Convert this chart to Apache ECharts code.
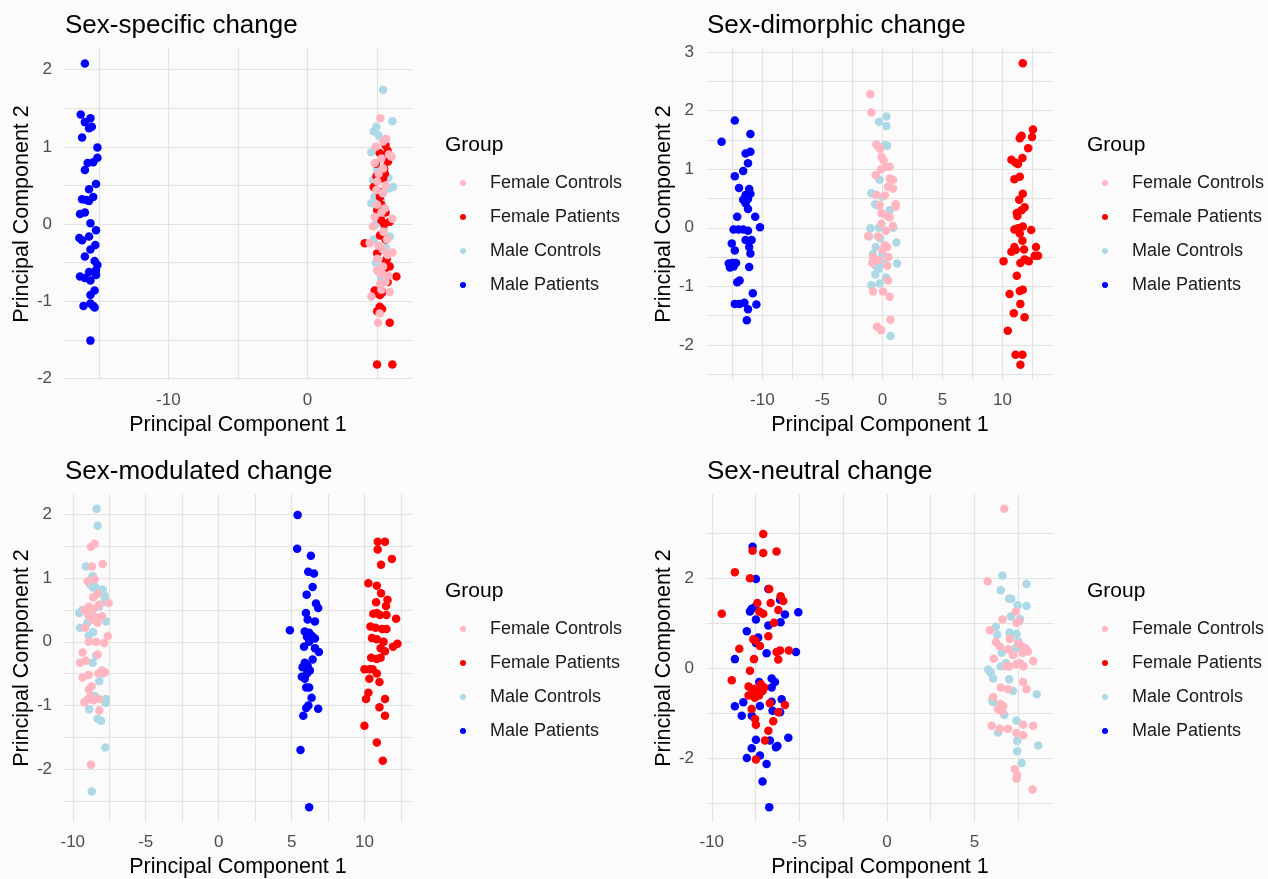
<!DOCTYPE html>
<html>
<head>
<meta charset="utf-8">
<script src="https://cdn.jsdelivr.net/npm/echarts@6/dist/echarts.min.js"></script>
<style>html,body{margin:0;padding:0;background:#fbfbfb;}#c{width:1268px;height:879px;}</style>
</head>
<body>
<div id="c"></div>
<script>
// ---------- categories ----------
const groups = ['Female Controls', 'Female Patients', 'Male Controls', 'Male Patients'];
const panelTitles = ['Sex-specific change', 'Sex-dimorphic change', 'Sex-modulated change', 'Sex-neutral change'];
const legendTitle = 'Group';
const xAxisTitle = 'Principal Component 1';
const yAxisTitle = 'Principal Component 2';

// ---------- tick labels / grid lines ----------
const specificXLabels = [-10, 0];
const specificXGrid = [-15, -10, -5, 0, 5];
const specificYLabels = [-2, -1, 0, 1, 2];
const specificYGrid = [-2, -1.5, -1, -0.5, 0, 0.5, 1, 1.5, 2];

const dimorphicXLabels = [-10, -5, 0, 5, 10];
const dimorphicXGrid = [-12.5, -10, -7.5, -5, -2.5, 0, 2.5, 5, 7.5, 10, 12.5];
const dimorphicYLabels = [-2, -1, 0, 1, 2, 3];
const dimorphicYGrid = [-2.5, -2, -1.5, -1, -0.5, 0, 0.5, 1, 1.5, 2, 2.5, 3];

const modulatedXLabels = [-10, -5, 0, 5, 10];
const modulatedXGrid = [-10, -7.5, -5, -2.5, 0, 2.5, 5, 7.5, 10, 12.5];
const modulatedYLabels = [-2, -1, 0, 1, 2];
const modulatedYGrid = [-2.5, -2, -1.5, -1, -0.5, 0, 0.5, 1, 1.5, 2];

const neutralXLabels = [-10, -5, 0, 5];
const neutralXGrid = [-10, -7.5, -5, -2.5, 0, 2.5, 5, 7.5];
const neutralYLabels = [-2, 0, 2];
const neutralYGrid = [-3, -2, -1, 0, 1, 2, 3];

// ---------- data: Sex-specific change ----------
const specificMalePatients = [[-16.0,2.08],[-16.3,1.42],[-15.6,1.37],[-16.0,1.32],[-15.5,1.26],[-15.7,1.24],[-16.2,1.12],[-15.1,0.99],[-15.1,0.86],[-15.4,0.80],[-15.8,0.79],[-16.0,0.70],[-15.2,0.52],[-15.7,0.45],[-15.4,0.35],[-16.2,0.32],[-15.9,0.31],[-15.7,0.30],[-16.35,0.13],[-16.0,0.15],[-15.6,0.01],[-15.2,-0.08],[-16.4,-0.18],[-16.2,-0.21],[-15.7,-0.16],[-15.25,-0.27],[-15.6,-0.33],[-16.0,-0.42],[-15.3,-0.48],[-15.1,-0.53],[-15.2,-0.60],[-16.35,-0.68],[-16.0,-0.70],[-15.7,-0.62],[-15.6,-0.73],[-15.2,-0.66],[-15.3,-0.86],[-15.6,-0.92],[-16.1,-1.06],[-15.4,-1.06],[-15.6,-1.03],[-15.3,-1.08],[-15.6,-1.51]];
const specificFemalePatients = [[5.6,1.02],[5.18,0.92],[5.4,0.88],[5.78,0.81],[4.9,0.78],[5.5,0.72],[5.42,0.59],[4.75,0.48],[5.1,0.42],[5.3,0.25],[5.0,0.18],[5.3,0.05],[5.9,0.03],[5.5,0.0],[4.1,-0.25],[5.6,-0.2],[5.3,-0.33],[5.0,-0.38],[5.7,-0.45],[5.9,-0.55],[5.5,-0.6],[6.38,-0.68],[5.6,-0.5],[4.82,-0.86],[5.0,-0.9],[5.4,-0.88],[5.2,-0.92],[5.18,-1.07],[5.35,-1.1],[5.0,-1.13],[5.9,-1.28],[4.99,-1.82],[6.09,-1.82],[5.75,-0.75],[5.2,0.35],[5.55,0.65],[4.95,0.62],[5.6,0.15],[5.2,-0.15],[5.75,0.95]];
const specificFemaleControls = [[5.23,1.37],[5.42,1.07],[5.85,0.9],[6.02,0.87],[4.82,0.79],[5.42,0.72],[5.1,0.65],[4.94,0.44],[5.4,0.4],[4.82,0.09],[4.7,-0.03],[6.09,0.07],[4.46,-0.25],[5.1,-0.28],[5.4,-0.33],[6.09,-0.37],[5.42,-0.55],[5.1,-0.62],[5.4,-0.65],[5.8,-0.67],[5.9,-0.88],[4.58,-0.94],[5.18,-1.16],[5.06,-1.28],[5.0,0.55],[5.3,0.15],[5.6,0.5],[5.0,0.25],[5.45,-0.1],[5.7,-0.2],[5.0,-0.45],[5.6,-0.75],[5.2,-0.78],[5.55,0.2],[4.9,1.0],[5.65,1.1],[5.3,0.85],[5.0,-0.6],[5.75,-0.4],[5.3,-0.85]];
const specificMaleControls = [[5.42,1.74],[6.09,1.33],[4.75,1.2],[4.94,1.26],[4.58,0.93],[6.14,0.48],[5.85,0.46],[4.7,0.57],[4.58,0.27],[5.54,-0.47],[5.9,-0.16],[5.1,1.15],[5.0,0.7],[4.8,0.35],[5.3,0.3],[5.6,-0.3],[4.9,-0.5],[5.3,-0.7],[5.8,0.6],[5.5,-0.05],[4.75,-0.2],[4.9,0.0],[5.35,-0.9],[5.6,0.8]];

// ---------- data: Sex-dimorphic change ----------
const dimorphicMalePatients = [[-12.3,1.83],[-13.4,1.47],[-11.0,1.6],[-11.4,1.27],[-11.0,1.3],[-11.2,1.1],[-11.6,0.97],[-12.3,0.88],[-11.95,0.68],[-11.1,0.66],[-11.0,0.58],[-11.4,0.56],[-11.6,0.48],[-11.2,0.49],[-11.4,0.42],[-11.2,0.32],[-12.1,0.19],[-10.6,0.19],[-12.4,-0.03],[-12.0,-0.03],[-11.6,-0.03],[-11.2,-0.05],[-10.2,0.01],[-11.4,-0.21],[-10.9,-0.21],[-12.55,-0.27],[-11.1,-0.33],[-12.3,-0.39],[-11.0,-0.44],[-12.8,-0.61],[-12.5,-0.6],[-12.2,-0.6],[-12.7,-0.68],[-12.4,-0.66],[-11.1,-0.67],[-12.1,-0.93],[-11.9,-0.9],[-12.3,-1.3],[-11.9,-1.3],[-11.5,-1.28],[-10.8,-1.12],[-11.2,-1.39],[-10.5,-1.31],[-11.3,-1.58]];
const dimorphicFemaleControls = [[-1.0,2.28],[-0.92,1.97],[-0.5,1.42],[-0.3,1.38],[-0.2,1.35],[-0.08,1.21],[0.1,1.15],[0.33,1.04],[0.6,1.04],[-0.56,0.9],[0.6,0.84],[0.88,0.82],[0.47,0.7],[0.88,0.67],[-0.5,0.56],[1.1,0.4],[1.1,0.36],[-0.23,0.39],[-0.08,0.25],[0.4,0.2],[0.6,0.18],[-0.08,0.07],[0.88,0.03],[-0.37,-0.15],[-1.2,-0.14],[0.2,-0.3],[0.4,-0.33],[0.0,-0.38],[-0.78,-0.5],[-0.3,-0.55],[0.5,-0.5],[0.4,-0.65],[-0.85,-0.6],[0.47,-0.9],[-0.78,-1.09],[0.05,-1.09],[0.6,-1.18],[0.67,-1.57],[-0.45,-1.69],[-0.1,-1.75],[0.2,0.55],[-0.1,1.0],[0.3,-0.05]];
const dimorphicMaleControls = [[0.33,1.9],[-0.28,1.81],[0.33,1.74],[0.2,1.41],[-0.23,0.82],[-0.92,0.59],[-0.5,0.56],[0.0,0.53],[-0.6,0.4],[-0.4,0.38],[-1.0,-0.01],[-1.1,-0.15],[-0.2,-0.18],[0.9,0.0],[1.17,-0.25],[-0.56,-0.33],[-0.8,-0.45],[0.0,-0.45],[1.22,-0.61],[-0.5,-0.66],[-0.3,-0.7],[0.1,-0.6],[-0.92,-0.98],[-0.23,-0.95],[0.3,-0.85],[0.67,-1.85],[-0.3,0.0],[0.6,0.3],[-0.6,-0.8],[0.4,1.4]];
const dimorphicFemalePatients = [[11.7,2.81],[12.55,1.68],[11.6,1.57],[12.47,1.55],[11.45,1.53],[12.15,1.36],[10.75,1.16],[11.1,1.11],[11.3,1.09],[11.67,1.19],[11.0,0.83],[11.45,0.87],[11.7,0.58],[11.4,0.48],[11.85,0.35],[11.6,0.3],[11.2,0.25],[11.25,0.2],[11.3,-0.01],[11.7,0.02],[11.0,-0.03],[12.4,-0.04],[11.45,-0.1],[11.67,-0.22],[11.0,-0.33],[12.8,-0.33],[10.75,-0.41],[11.1,-0.38],[11.8,-0.37],[10.1,-0.57],[11.5,-0.6],[11.85,-0.54],[12.2,-0.57],[12.7,-0.48],[12.97,-0.48],[11.2,-0.82],[11.7,-1.06],[11.45,-1.08],[10.6,-1.13],[11.5,-1.3],[10.95,-1.46],[11.85,-1.53],[10.45,-1.76],[11.1,-2.17],[11.67,-2.17],[11.5,-2.34]];

// ---------- data: Sex-modulated change ----------
const modulatedMaleControls = [[-8.36,2.09],[-8.3,1.82],[-9.1,1.18],[-8.64,1.03],[-8.8,0.9],[-8.6,0.85],[-8.45,0.86],[-7.95,0.82],[-7.8,0.72],[-7.83,0.63],[-9.33,0.5],[-9.55,0.45],[-8.6,0.4],[-7.72,0.32],[-9.5,0.22],[-8.6,0.15],[-8.9,0.1],[-8.4,-0.22],[-8.64,-0.33],[-8.18,-0.62],[-7.95,-0.5],[-7.72,-0.9],[-7.75,-0.96],[-8.87,-1.06],[-8.3,-1.21],[-8.06,-1.24],[-7.77,-1.66],[-8.7,-2.35],[-8.2,0.55],[-9.0,0.3],[-8.0,-0.45],[-8.5,-0.85]];
const modulatedFemaleControls = [[-8.75,1.49],[-8.5,1.54],[-8.68,1.18],[-7.95,1.22],[-8.98,0.95],[-8.5,0.98],[-7.54,0.61],[-8.9,0.55],[-8.55,0.52],[-8.2,0.58],[-9.2,0.5],[-8.95,0.42],[-8.7,0.35],[-8.4,0.38],[-9.15,0.22],[-8.3,0.3],[-7.6,0.09],[-8.9,0.0],[-8.4,-0.0],[-7.85,-0.02],[-9.33,-0.17],[-9.5,-0.33],[-9.1,-0.3],[-8.3,-0.2],[-9.33,-0.56],[-8.9,-0.52],[-8.25,-0.5],[-8.0,-0.46],[-7.8,-0.48],[-8.7,-0.7],[-8.9,-0.75],[-8.8,-0.85],[-9.2,-0.95],[-8.95,-0.9],[-8.6,-0.92],[-8.2,-0.9],[-8.18,-1.08],[-8.75,-1.93],[-8.6,0.7],[-8.3,0.75],[-8.0,0.4]];
const modulatedMalePatients = [[5.41,1.99],[5.38,1.46],[6.32,1.35],[6.14,1.1],[6.53,1.07],[6.44,0.86],[6.03,0.74],[6.67,0.6],[6.82,0.53],[5.98,0.45],[6.6,0.32],[6.1,0.35],[4.88,0.18],[5.9,0.16],[6.2,0.14],[6.05,0.08],[6.4,0.09],[6.6,0.05],[6.2,0.0],[5.85,-0.08],[6.6,-0.1],[6.87,-0.16],[6.44,-0.28],[5.9,-0.33],[6.1,-0.38],[6.25,-0.45],[5.7,-0.55],[5.9,-0.58],[6.0,-0.72],[6.2,-0.72],[6.37,-0.88],[6.15,-1.0],[6.0,-1.04],[6.82,-1.05],[5.8,-1.16],[5.61,-1.7],[6.2,-2.6],[5.75,-0.4],[6.05,-0.5]];
const modulatedFemalePatients = [[10.9,1.57],[11.4,1.57],[10.9,1.45],[11.87,1.3],[11.13,1.21],[10.26,0.92],[10.84,0.88],[11.13,0.76],[11.57,0.66],[10.79,0.62],[11.47,0.56],[10.6,0.44],[10.84,0.45],[11.05,0.42],[11.5,0.42],[12.16,0.36],[10.4,0.24],[10.75,0.22],[11.2,0.2],[11.5,0.2],[10.5,0.06],[10.84,0.04],[11.3,0.0],[12.25,-0.03],[11.95,-0.08],[11.1,-0.1],[11.4,-0.15],[10.45,-0.25],[10.84,-0.27],[11.1,-0.25],[9.99,-0.43],[10.33,-0.43],[10.55,-0.43],[10.33,-0.58],[10.84,-0.5],[11.02,-0.63],[10.26,-0.8],[10.1,-0.9],[11.4,-0.9],[11.02,-1.03],[11.4,-1.16],[9.99,-1.32],[10.84,-1.58],[11.25,-1.87]];

// ---------- data: Sex-neutral change ----------
const neutralFemalePatients = [[-7.06,2.99],[-7.67,2.62],[-7.06,2.57],[-6.3,2.6],[-8.68,2.14],[-7.82,2.01],[-6.72,1.77],[-6.07,1.61],[-5.92,1.5],[-7.4,1.46],[-6.64,1.46],[-9.43,1.22],[-7.29,1.27],[-7.06,1.22],[-6.2,1.3],[-6.45,1.02],[-6.77,0.72],[-7.63,0.65],[-7.5,0.62],[-7.25,0.5],[-8.43,0.44],[-6.3,0.37],[-6.1,0.4],[-5.6,0.4],[-6.2,0.2],[-7.59,0.21],[-7.82,-0.05],[-8.86,-0.26],[-7.9,-0.4],[-7.6,-0.45],[-7.4,-0.5],[-7.7,-0.55],[-7.3,-0.6],[-7.9,-0.6],[-7.55,-0.65],[-7.1,-0.5],[-7.0,-0.42],[-7.72,-0.9],[-6.68,-0.77],[-5.82,-0.81],[-6.2,-0.97],[-7.53,-1.12],[-7.48,-1.25],[-6.49,-1.17],[-6.77,-1.38],[-6.96,-1.6],[-7.48,-2.02],[-7.2,-0.35]];
const neutralMalePatients = [[-7.67,2.71],[-7.48,1.99],[-6.77,1.77],[-6.1,1.53],[-7.53,1.37],[-7.72,1.33],[-7.82,1.27],[-5.06,1.25],[-5.82,1.2],[-7.48,1.09],[-6.77,0.96],[-6.07,1.03],[-8.0,0.83],[-7.35,0.69],[-7.48,0.57],[-6.87,0.34],[-8.68,0.21],[-5.19,0.37],[-7.29,-0.3],[-6.58,-0.22],[-6.39,-0.3],[-6.58,-0.42],[-8.2,-0.75],[-8.68,-0.84],[-7.25,-0.83],[-6.58,-0.74],[-6.01,-0.68],[-6.1,-0.97],[-8.29,-1.05],[-7.72,-1.05],[-6.53,-0.94],[-7.48,-1.58],[-6.68,-1.6],[-5.63,-1.54],[-6.34,-1.75],[-6.25,-1.72],[-7.72,-1.77],[-8.0,-1.99],[-7.25,-1.93],[-6.87,-2.12],[-7.1,-2.51],[-6.72,-3.08]];
const neutralFemaleControls = [[6.7,3.55],[5.75,1.94],[5.88,0.85],[6.6,1.09],[7.36,1.27],[7.4,1.02],[7.55,1.05],[6.22,0.59],[6.45,0.49],[6.92,0.43],[7.02,0.66],[7.5,0.55],[7.7,0.5],[7.9,0.45],[8.05,0.38],[7.75,0.35],[6.1,0.22],[6.8,0.05],[7.0,0.05],[7.4,0.1],[7.6,0.12],[7.8,0.05],[8.35,0.17],[7.78,-0.3],[7.97,-0.46],[6.5,-0.42],[6.92,-0.46],[6.07,-0.64],[6.49,-0.79],[6.64,-0.83],[6.35,-0.9],[6.6,-0.96],[5.98,-1.27],[6.45,-1.34],[6.92,-1.34],[7.78,-1.25],[8.35,-1.27],[7.4,-1.43],[7.78,-1.48],[7.3,-2.24],[7.44,-2.37],[7.4,-2.45],[8.32,-2.69],[7.2,0.3]];
const neutralMaleControls = [[6.6,2.07],[7.97,1.88],[6.5,1.74],[6.98,1.55],[7.1,1.55],[7.46,1.41],[7.97,1.39],[7.08,1.16],[7.6,1.1],[6.22,0.93],[7.0,0.8],[7.4,0.77],[6.55,0.35],[7.2,0.3],[7.35,0.45],[6.5,0.05],[6.8,0.12],[5.78,-0.02],[5.92,-0.09],[6.07,-0.22],[6.98,-0.24],[8.55,-0.57],[6.07,-0.75],[6.0,-0.7],[6.7,-1.03],[7.4,-1.16],[6.35,-1.42],[8.64,-1.71],[7.44,-1.61],[7.44,-1.84],[7.69,-2.1],[7.5,0.6],[6.3,0.75],[7.2,-0.5]];

// ---------- assembly ----------
const groupColors = {
  'Female Controls': '#FFB6C1',
  'Female Patients': '#FF0000',
  'Male Controls': '#ADD8E6',
  'Male Patients': '#0000FF'
};
const drawOrder = ['Male Controls', 'Male Patients', 'Female Patients', 'Female Controls'];

const panels = [
  { data: {'Female Controls': specificFemaleControls, 'Female Patients': specificFemalePatients, 'Male Controls': specificMaleControls, 'Male Patients': specificMalePatients},
    xRange: [-17.5, 7.5], yRange: [-2.02, 2.28], xLabels: specificXLabels, xGrid: specificXGrid, yLabels: specificYLabels, yGrid: specificYGrid,
    grid: {left: 64, top: 48, width: 348, height: 332}, col: 0, row: 0 },
  { data: {'Female Controls': dimorphicFemaleControls, 'Female Patients': dimorphicFemalePatients, 'Male Controls': dimorphicMaleControls, 'Male Patients': dimorphicMalePatients},
    xRange: [-14.7, 14.3], yRange: [-2.6, 3.07], xLabels: dimorphicXLabels, xGrid: dimorphicXGrid, yLabels: dimorphicYLabels, yGrid: dimorphicYGrid,
    grid: {left: 706, top: 48, width: 348, height: 332}, col: 1, row: 0 },
  { data: {'Female Controls': modulatedFemaleControls, 'Female Patients': modulatedFemalePatients, 'Male Controls': modulatedMaleControls, 'Male Patients': modulatedMalePatients},
    xRange: [-10.6, 13.25], yRange: [-2.83, 2.32], xLabels: modulatedXLabels, xGrid: modulatedXGrid, yLabels: modulatedYLabels, yGrid: modulatedYGrid,
    grid: {left: 64, top: 494, width: 348, height: 330}, col: 0, row: 1 },
  { data: {'Female Controls': neutralFemaleControls, 'Female Patients': neutralFemalePatients, 'Male Controls': neutralMaleControls, 'Male Patients': neutralMalePatients},
    xRange: [-10.33, 9.54], yRange: [-3.41, 3.88], xLabels: neutralXLabels, xGrid: neutralXGrid, yLabels: neutralYLabels, yGrid: neutralYGrid,
    grid: {left: 706, top: 494, width: 348, height: 330}, col: 1, row: 1 }
];

const FONT = "'Liberation Sans', Arial, sans-serif";
const GRIDCOLOR = '#E2E2E2';

const option = {
  backgroundColor: '#FBFBFB',
  animation: false,
  textStyle: { fontFamily: FONT },
  title: [], grid: [], xAxis: [], yAxis: [], legend: [], series: []
};

panels.forEach((p, i) => {
  const colX = p.col === 0 ? 0 : 642;
  const rowY = p.row === 0 ? 0 : 446;
  option.title.push({
    text: panelTitles[i], left: 60 + colX, top: 8 + rowY,
    textStyle: { fontFamily: FONT, fontSize: 26, fontWeight: 'normal', color: '#000' }
  });
  option.title.push({
    text: legendTitle, left: 440 + colX, top: 130 + rowY,
    textStyle: { fontFamily: FONT, fontSize: 21, fontWeight: 'normal', color: '#000' }
  });
  option.grid.push(Object.assign({ containLabel: false, show: false }, p.grid));
  option.xAxis.push({
    type: 'value', gridIndex: i, min: p.xRange[0], max: p.xRange[1],
    name: xAxisTitle, nameLocation: 'middle', nameGap: 34,
    nameTextStyle: { fontFamily: FONT, fontSize: 21.5, color: '#000' },
    axisLine: { show: false },
    axisTick: { show: false, customValues: p.xGrid },
    axisLabel: { customValues: p.xLabels, fontFamily: FONT, fontSize: 17, color: '#4D4D4D', margin: 12 },
    splitLine: { show: true, lineStyle: { color: GRIDCOLOR, width: 1.1 } }
  });
  option.yAxis.push({
    type: 'value', gridIndex: i, min: p.yRange[0], max: p.yRange[1],
    name: yAxisTitle, nameLocation: 'middle', nameGap: 30,
    nameTextStyle: { fontFamily: FONT, fontSize: 21.5, color: '#000' },
    axisLine: { show: false },
    axisTick: { show: false, customValues: p.yGrid },
    axisLabel: { customValues: p.yLabels, fontFamily: FONT, fontSize: 17, color: '#4D4D4D', margin: 12 },
    splitLine: { show: true, lineStyle: { color: GRIDCOLOR, width: 1.1 } }
  });
  option.legend.push({
    data: groups, orient: 'vertical', left: 455 + colX, top: 169 + rowY,
    icon: 'circle', itemWidth: 44, itemHeight: 6, itemGap: 16,
    selectedMode: false,
    textStyle: { fontFamily: FONT, fontSize: 18, color: '#1A1A1A' }
  });
  drawOrder.forEach(g => {
    option.series.push({
      type: 'scatter', name: g, xAxisIndex: i, yAxisIndex: i,
      data: p.data[g], symbol: 'circle', symbolSize: 8.5,
      itemStyle: { color: groupColors[g], opacity: 1 },
      emphasis: { disabled: true }
    });
  });
});

const chart = echarts.init(document.getElementById('c'), null, { renderer: 'canvas' });
chart.setOption(option);
</script>
</body>
</html>
